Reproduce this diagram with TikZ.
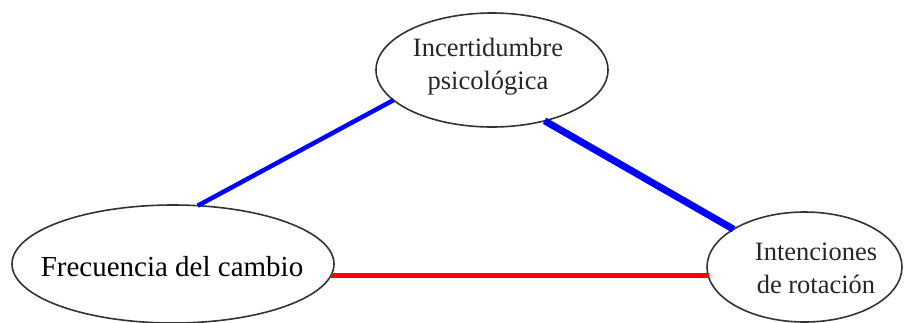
\documentclass[tikz,border=0pt]{standalone}
\usepackage{fontspec}
\setmainfont{Liberation Serif}
\usetikzlibrary{shapes.geometric}

\begin{document}
\begin{tikzpicture}[x=1pt,y=-1pt,
	oval/.style={ellipse, draw=black!80, line width=1.6pt, inner sep=0pt, outer sep=0pt},
	lbl/.style={align=center, text=black!85, font=\fontsize{26.5}{33}\selectfont}]

	% ---- frame

	\useasboundingbox (0,0) rectangle (904,322);
	\clip (0,0) rectangle (904,322);

	% ---- ellipses

	\node[oval, minimum width=232pt, minimum height=114pt] (incert) at (492,70) {};
	\node[oval, minimum width=322pt, minimum height=118pt] (frec) at (173,264) {};
	\node[oval, minimum width=195pt, minimum height=110pt] (inten) at (804.5,267) {};

	% ---- labels

	\node[lbl] (incert-txt) at (488,67) {Incertidumbre\\psicológica};
	\node[lbl, font=\fontsize{29}{33}\selectfont, text=black] (frec-txt) at (172,267) {Frecuencia del cambio};
	\node[lbl] (inten-txt) at (816,268) {Intenciones\\de rotación};

	% ---- links

	\draw[blue, line width=4.5pt] (incert.197) -- (frec.67);
	\draw[blue, line width=7pt] (incert.316) -- (inten.152);
	\draw[red, line width=5pt] (frec.-4) -- (frec.-4 -| inten.186);

\end{tikzpicture}
\end{document}
